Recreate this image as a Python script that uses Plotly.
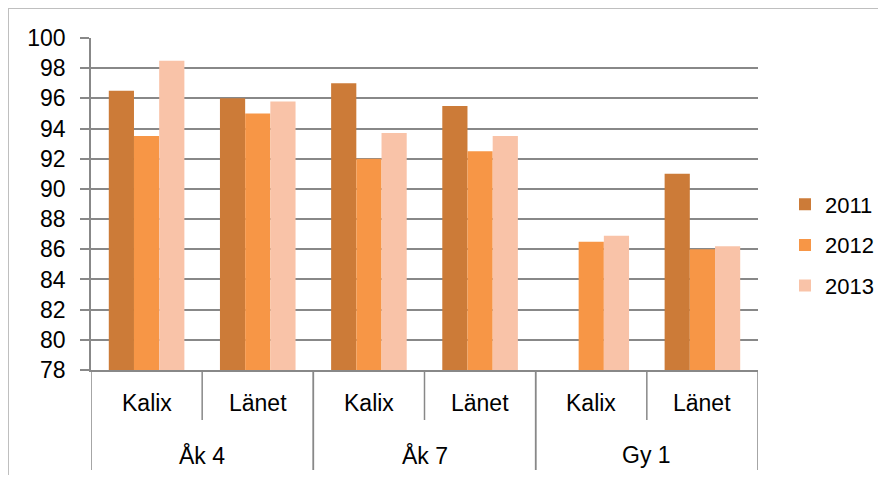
import plotly.graph_objects as go

groups = ["Åk 4", "Åk 4", "Åk 7", "Åk 7", "Gy 1", "Gy 1"]
places = ["Kalix", "Länet", "Kalix", "Länet", "Kalix", "Länet"]
years = ["2011", "2012", "2013"]
v2011 = [96.5, 96.0, 97.0, 95.5, None, 91.0]
v2012 = [93.5, 95.0, 92.0, 92.5, 86.5, 86.0]
v2013 = [98.5, 95.8, 93.7, 93.5, 86.9, 86.2]
y_ticks = [78, 80, 82, 84, 86, 88, 90, 92, 94, 96, 98, 100]

colors = ["#CC7B38", "#F79646", "#F9C3A8"]
FONT = "Liberation Sans"
FS = 23
GRAY = "#888888"

cats = [f"{g} | {p}" for g, p in zip(groups, places)]

fig = go.Figure()
for name, vals, col in zip(years, [v2011, v2012, v2013], colors):
    fig.add_trace(go.Bar(x=cats, y=vals, name=name, legendgroup=name,
                         marker=dict(color=col, line=dict(width=0))))

# the figure sits inside the page's 8px body margin; size it so no scrollbars appear
OFF = 8
W, H = 886 - 2 * OFF, 483 - 2 * OFF
L = 91 - OFF
T = 38 - OFF
R = W - (758 - OFF)
B = H - (370 - OFF)
PW, PH = W - L - R, H - T - B
fig.update_layout(
    width=W, height=H,
    margin=dict(l=L, r=R, t=T, b=B, autoexpand=False),
    paper_bgcolor="white", plot_bgcolor="white",
    barmode="group", bargap=0.32, bargroupgap=0,
    font=dict(family=FONT, size=FS, color="black"),
    showlegend=True,
    legend=dict(x=(785 - OFF - L) / PW, xanchor="left",
                y=(H - B - (245 - OFF)) / PH, yanchor="middle",
                font=dict(family=FONT, size=22), tracegroupgap=9,
                bgcolor="rgba(0,0,0,0)"),
    xaxis=dict(type="category", categoryorder="array", categoryarray=cats,
               range=[-0.5, len(cats) - 0.5],
               showline=True, linecolor=GRAY, linewidth=1.5,
               showticklabels=False, ticks="", showgrid=False, automargin=False),
    yaxis=dict(range=[78, 100], tickvals=y_ticks, showline=True, linecolor=GRAY,
               linewidth=1.5, ticks="outside", ticklen=9, tickcolor=GRAY, tickwidth=1.5,
               ticklabelstandoff=10,
               showgrid=True, gridcolor=GRAY, gridwidth=1.5, zeroline=False,
               tickfont=dict(family=FONT, size=FS), automargin=False),
)

# inner category labels and short separators
for i, p in enumerate(places):
    fig.add_annotation(x=cats[i], xref="x", y=0, yref="paper", yshift=-33,
                       text=p, showarrow=False, yanchor="middle",
                       font=dict(family=FONT, size=FS))
for i in range(1, len(cats)):
    if groups[i] == groups[i - 1]:
        fig.add_shape(type="line", xref="x", yref="paper", x0=i - 0.5, x1=i - 0.5,
                      y0=0, y1=-50 / PH, line=dict(color=GRAY, width=1.5))

# group labels and long separators
uniq = []
for g in groups:
    if g not in uniq:
        uniq.append(g)
for g in uniq:
    idx = [i for i, gg in enumerate(groups) if gg == g]
    fig.add_annotation(x=(idx[0] + idx[-1]) / 2, xref="x", y=0, yref="paper", yshift=-85,
                       text=g, showarrow=False, yanchor="middle",
                       font=dict(family=FONT, size=FS))
    for xb in (idx[0] - 0.5, idx[-1] + 0.5):
        fig.add_shape(type="line", xref="x", yref="paper", x0=xb, x1=xb,
                      y0=0, y1=-100 / PH, line=dict(color=GRAY, width=1.5))

# outer chart border (top and left edges of the figure)
fig.add_shape(type="rect", xref="paper", yref="paper",
              x0=-L / PW, x1=(W + 20 - L) / PW,
              y0=-(B + 20) / PH, y1=1 + T / PH,
              line=dict(color="#BFBFBF", width=2), layer="below")
fig.write_html("out.html")
